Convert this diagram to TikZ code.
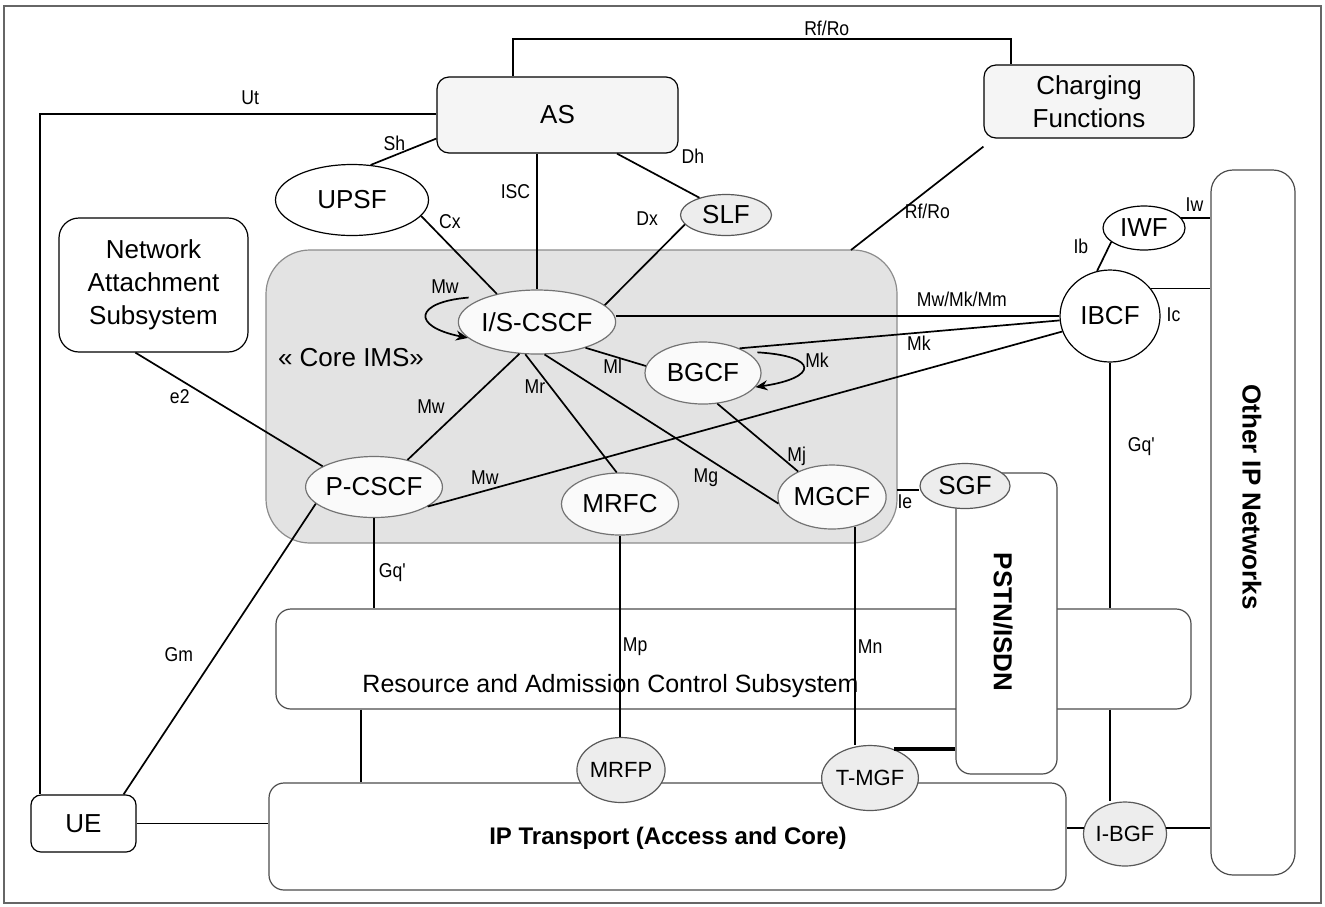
\documentclass[tikz,border=0pt]{standalone}
\usepackage{fontspec}
\setmainfont{Liberation Sans}
\newfontfamily\lblfamily{Liberation Sans}[FakeStretch=0.88]
\usetikzlibrary{shapes.geometric, arrows.meta}

\newcommand{\nodefont}{\fontsize{13}{16.5}\selectfont}
\newcommand{\gwfont}{\fontsize{11}{13}\selectfont}
\newcommand{\lblfont}{\lblfamily\fontsize{10}{11}\selectfont}

\tikzset{
	func/.style={ellipse, draw=black!55, line width=0.6pt, fill=black!2, inner sep=0pt, font=\nodefont},
	plain/.style={ellipse, draw=black, line width=0.6pt, fill=white, inner sep=0pt, font=\nodefont},
	gate/.style={ellipse, draw=black!65, line width=0.6pt, fill=black!7, inner sep=0pt, font=\gwfont},
	subsys/.style={rectangle, rounded corners=7.5pt, draw=black!70, line width=0.6pt, fill=white, inner sep=0pt},
	block/.style={rectangle, rounded corners=6pt, draw=black, line width=0.6pt, inner sep=0pt, font=\nodefont, align=center},
	lbl/.style={font=\lblfont, inner sep=1pt},
	link/.style={line width=0.85pt}
}

\begin{document}
\begin{tikzpicture}[x=0.5pt, y=-0.5pt]
	\useasboundingbox (0,0) rectangle (1325,906);
	\draw [black!60, line width=0.6pt] (4,6) rectangle (1321,903);

	% subsystems
	\node [subsys, fill=black!11, draw=black!45, rounded corners=22pt, minimum width=315.5pt, minimum height=146.5pt] (core) at (581.5,396.5) {};
	\node [subsys, minimum width=457.5pt, minimum height=50pt] (racs) at (733.5,659) {};
	\node [subsys, minimum width=398.5pt, minimum height=53.5pt] (iptr) at (667.5,836.5) {};
	\node [subsys, minimum width=50.5pt, minimum height=150.5pt] (pstn) at (1006.5,623.5) {};
	\node [subsys, rounded corners=11pt, minimum width=42pt, minimum height=352.5pt] (other) at (1253,522.5) {};

	\node [font=\nodefont] (coreims) at (351,358) {« Core IMS»};
	\node [font=\fontsize{12.5}{14}\selectfont] (racstxt) at (610.5,686) {Resource and Admission Control Subsystem};
	\node [font=\fontsize{12}{14}\selectfont\bfseries] (iptxt) at (668,838) {IP Transport (Access and Core)};
	\node [font=\nodefont\bfseries, rotate=-90] (pstntxt) at (1003,622) {PSTN/ISDN};
	\node [font=\nodefont\bfseries, rotate=-90] (othertxt) at (1252,497) {Other IP Networks};

	% boxes
	\node [block, fill=black!4, minimum width=120.5pt, minimum height=38pt] (as) at (557.5,115) {AS};
	\node [block, fill=black!4, minimum width=105pt, minimum height=36.5pt] (chg) at (1089,101.5) {Charging\\Functions};
	\node [block, fill=white, rounded corners=10pt, minimum width=94.5pt, minimum height=67pt] (nas) at (153.5,285) {Network\\Attachment\\Subsystem};
	\node [block, fill=white, rounded corners=5pt, minimum width=52.5pt, minimum height=28.5pt] (ue) at (83.5,823.5) {UE};

	% functions
	\node [plain, minimum width=76.5pt, minimum height=35.5pt] (upsf) at (352,200) {UPSF};
	\node [gate, font=\nodefont, minimum width=45.5pt, minimum height=20.5pt] (slf) at (726,215) {SLF};
	\node [func, minimum width=62.5pt, minimum height=32pt] (iscscf) at (537,322) {I/S-CSCF};
	\node [func, minimum width=58pt, minimum height=31pt] (bgcf) at (703,373) {BGCF};
	\node [func, minimum width=59pt, minimum height=30.5pt] (pcscf) at (374,487) {P-CSCF};
	\node [func, minimum width=58.5pt, minimum height=31pt] (mrfc) at (620,504) {MRFC};
	\node [func, minimum width=49.5pt, minimum height=32pt] (mgcf) at (832,497) {MGCF};
	\node [plain, minimum width=50pt, minimum height=46pt] (ibcf) at (1110,316) {IBCF};
	\node [plain, minimum width=41pt, minimum height=22pt] (iwf) at (1144,228) {IWF};
	\node [gate, font=\nodefont, minimum width=45pt, minimum height=22.5pt] (sgf) at (965,486) {SGF};
	\node [gate, minimum width=41.5pt, minimum height=32.5pt] (mrfp) at (621,770) {MRFP};
	\node [gate, minimum width=40.5pt, minimum height=32.5pt] (tmgf) at (870,778) {T-MGF};
	\node [gate, minimum width=41.5pt, minimum height=32pt] (ibgf) at (1125,834) {I-BGF};

	% reference points
	\coordinate (rfa) at (513,39);
	\coordinate (rfb) at (1011,39);
	\coordinate (utc) at (40,114);
	\coordinate (rfc) at (851,250);
	\coordinate (rix) at (361,700);
	\coordinate (iec) at (897,490);

	% top
	\draw [link] (rfa |- as.north) -- (rfa) -- node [lbl, pos=.63, above] {Rf/Ro} (rfb) -- (rfb |- chg.north);
	\draw [link] (as.west |- utc) -- node [lbl, pos=.47, above=3pt] {Ut} (utc) -- (utc |- ue.north);
	\draw [link] (as.191) -- node [lbl, pos=.64, above=1pt] {Sh} (upsf.62);
	\draw [link] (iscscf.north |- as.south) -- node [lbl, pos=.28, left=2pt] {ISC} (iscscf.north);
	\draw [link] (upsf.-13) -- node [lbl, pos=.2, above right=0pt] {Cx} (iscscf.145);
	\draw [link] (as.-33) -- node [lbl, pos=.75, anchor=south west, yshift=10pt] {Dh} (slf.147);
	\draw [link] (slf.193) -- node [lbl, pos=.05, anchor=south east, xshift=-10pt] {Dx} (iscscf.14);
	\draw [link] ([yshift=-4pt]chg.south west) -- node [lbl, pos=.63, right=1pt] {Rf/Ro} (rfc);

	% core IMS
	\draw [link] (nas.-105) -- node [lbl, pos=.39, left=8pt] {e2} (pcscf.158);
	\draw [link] (iscscf.241) -- node [lbl, pos=.5, left=8pt] {Mw} (pcscf.39);
	\draw [link] (iscscf.-110) -- node [lbl, pos=.27, left=1pt] {Mr} (mrfc.96);
	\draw [link] (iscscf.-77) -- node [lbl, pos=.69, below=4.5pt] {Mg} (mgcf.187);
	\draw [link] (iscscf.-28) -- node [lbl, pos=.45, below=0pt] {Ml} (bgcf.173);
	\draw [link] (bgcf.-65) -- node [lbl, pos=.77, right=2.5pt] {Mj} (mgcf.143);
	\draw [link] (bgcf.34) -- node [lbl, pos=.56, below=0pt] {Mk} (ibcf.185);
	\draw [link] (iscscf.east |- ibcf.west) -- node [lbl, pos=.78, above=3pt] {Mw/Mk/Mm} (ibcf.west);
	\draw [link] (pcscf.-20) -- node [lbl, pos=.09, above=1.5pt] {Mw} (ibcf.198);

	\draw [link, -{Stealth[length=6pt, width=5pt]}] ([xshift=-8pt]iscscf.155) .. controls (415,302) and (410,326) .. (iscscf.193);
	\node [lbl] (mwloop) at (445,287) {Mw};
	\draw [link, -{Stealth[length=6pt, width=5pt]}] ([xshift=5pt]bgcf.25) .. controls (820,356) and (818,378) .. (bgcf.-15);
	\node [lbl] (mkloop) at (817,360) {Mk};

	% transport side
	\draw [link] (pcscf.south) -- node [lbl, pos=.6, right=1pt] {Gq\textquotesingle} (pcscf.south |- racs.north);
	\draw [link] (ibcf.south) -- node [lbl, pos=.34, right=7.5pt] {Gq\textquotesingle} (ibcf.south |- racs.north);
	\draw [link] (ibcf.south |- racs.south) -- (ibcf.south |- ibgf.north);
	\draw [link] (rix |- racs.south) -- (rix |- iptr.north);
	\draw [link] (mrfc.south) -- node [lbl, pos=.55, right=0pt] {Mp} (mrfc.south |- mrfp.north);
	\draw [link] (mgcf.-52) -- node [lbl, pos=.55, right=0pt] {Mn} (mgcf.-52 |- tmgf.north);
	\draw [line width=2.2pt] (tmgf.50) -- (tmgf.50 -| pstn.west);
	\draw [link] (iec) -- node [lbl, pos=.35, below=1pt] {Ie} (iec -| sgf.west);

	\draw [link] (ue.36) -- node [lbl, pos=.48, left=10pt] {Gm} (pcscf.196);
	\draw [link] (ue.east) -- (ue.east -| iptr.west);
	\draw [link] (ibgf.172) -- (ibgf.172 -| iptr.east);
	\draw [link] (ibgf.8) -- (ibgf.8 -| other.west);

	% other IP networks
	\draw [link] (ibcf.106) -- node [lbl, pos=.85, left=9pt] {Ib} (iwf.203);
	\draw [link] (iwf.15) -- node [lbl, pos=.45, above=2pt] {Iw} (iwf.15 -| other.west);
	\draw [link] (ibcf.34) -- node [lbl, pos=.38, below=8pt] {Ic} (ibcf.34 -| other.west);
\end{tikzpicture}
\end{document}
